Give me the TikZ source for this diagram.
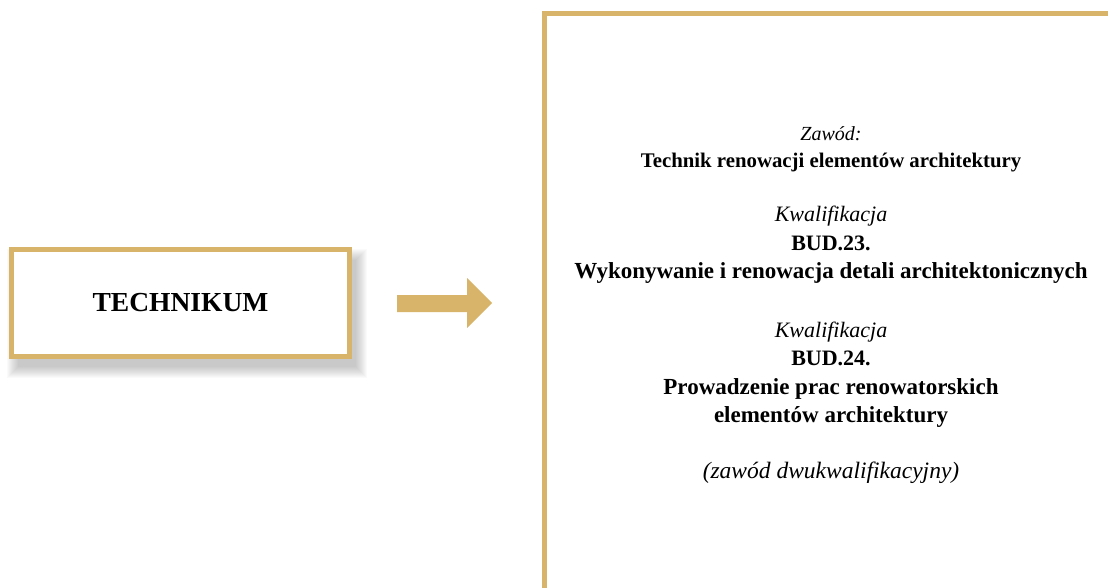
\documentclass[tikz,border=0pt]{standalone}
\usepackage{fontspec}
\setmainfont{Liberation Serif}
\definecolor{gold}{RGB}{215,180,106}
\begin{document}
\begin{tikzpicture}[x=1pt,y=-1pt,
  goldbox/.style={draw=gold,line width=5pt,fill=white,inner sep=0pt},
  txt/.style={anchor=base,inner sep=0pt,align=center},
  it/.style={txt,font=\fontsize{22}{26}\selectfont\itshape},
  bd/.style={txt,font=\fontsize{23}{27}\selectfont\bfseries},
  code/.style={txt,font=\fontsize{22}{26}\selectfont\bfseries},
  sm/.style={txt,font=\fontsize{20.8}{24}\selectfont\bfseries}]
\useasboundingbox (0,0) rectangle (1108,588);
% soft shadow
\foreach \i in {0,...,11}
  \fill[black,opacity=0.018] (17.5-\i,259.5-\i) rectangle (355.5+\i,366.5+\i);
\node[goldbox,minimum width=338pt,minimum height=107pt,
  font=\fontsize{27.5}{30}\selectfont\bfseries] (tech) at (180.5,303) {TECHNIKUM};
% block arrow
\fill[gold] (397,295) -- (467,295) -- (467,278) -- (492,303) -- (467,328)
  -- (467,312) -- (397,312) -- cycle;
% right box
\node[goldbox,fill=none,minimum width=620pt,minimum height=620pt,anchor=north west]
  (qual) at (541.5,11.5) {};
\node[it,font=\fontsize{20}{23}\selectfont\itshape] (t1) at (831,141) {Zawód:};
\node[sm] (t2) at (831,168) {Technik renowacji elementów architektury};
\node[it] (t3) at (831,222) {Kwalifikacja};
\node[code] (t4) at (831,250) {BUD.23.};
\node[bd] (t5) at (831,278) {Wykonywanie i renowacja detali architektonicznych};
\node[it] (t6) at (831,337) {Kwalifikacja};
\node[code] (t7) at (831,365) {BUD.24.};
\node[bd] (t8) at (831,394) {Prowadzenie prac renowatorskich};
\node[bd] (t9) at (831,422) {elementów architektury};
\node[it,font=\fontsize{23.5}{27}\selectfont\itshape] (t10) at (831,478) {(zawód dwukwalifikacyjny)};
\end{tikzpicture}
\end{document}
